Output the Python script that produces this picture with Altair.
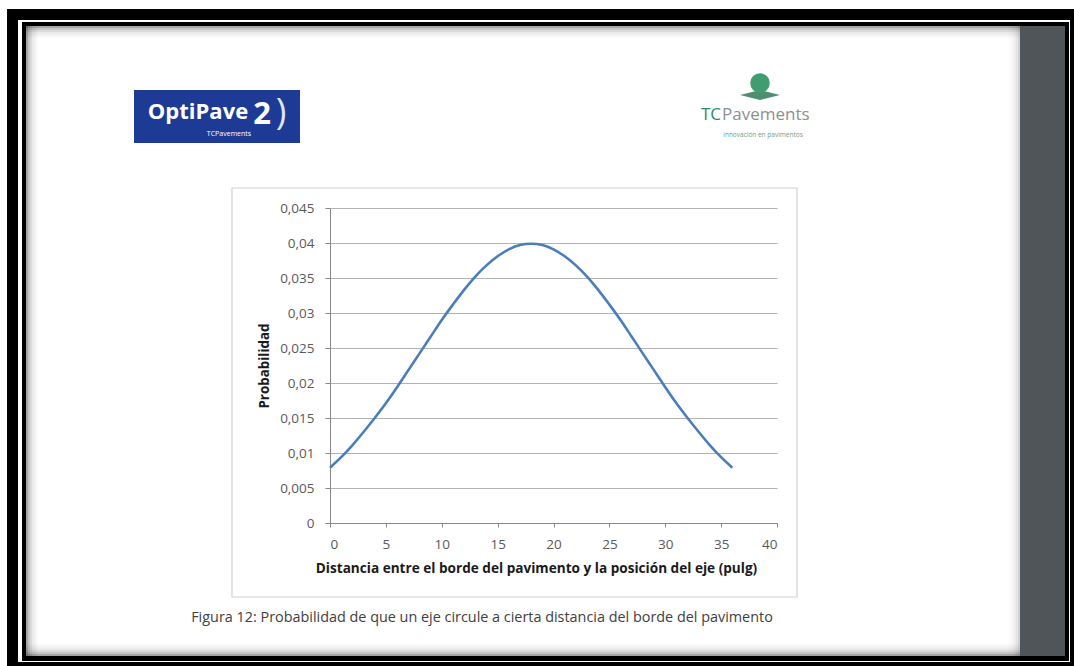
import altair as alt
import pandas as pd

# ---- data ----
distance = list(range(0, 37))
probability = [0.0079, 0.0094, 0.0111, 0.0130, 0.0150, 0.0171, 0.0194, 0.0218, 0.0242, 0.0266,
               0.0290, 0.0312, 0.0333, 0.0352, 0.0368, 0.0381, 0.0391, 0.0397, 0.0399,
               0.0397, 0.0391, 0.0381, 0.0368, 0.0352, 0.0333, 0.0312, 0.0290, 0.0266, 0.0242,
               0.0218, 0.0194, 0.0171, 0.0150, 0.0130, 0.0111, 0.0094, 0.0079]
x_ticks = [0, 5, 10, 15, 20, 25, 30, 35, 40]
y_ticks = [0, 0.005, 0.01, 0.015, 0.02, 0.025, 0.03, 0.035, 0.04, 0.045]

x_title = "Distancia entre el borde del pavimento y la posición del eje (pulg)"
y_title = "Probabilidad"
caption = "Figura 12: Probabilidad de que un eje circule a cierta distancia del borde del pavimento"

df = pd.DataFrame({"distance": distance, "probability": probability})

# ---- layout (plot area placed with padding) ----
W, H = 1074, 666
OX, OY = 330, 208          # plot-area origin in page pixels
PW, PH = 447, 315          # plot-area size
FONT = "Open Sans"
one = alt.Data(values=[{"k": 1}])


def rect(x1, y1, x2, y2, color, opacity=1.0):
    return alt.Chart(one).mark_rect(color=color, opacity=opacity).encode(
        x=alt.value(x1 - OX), x2=alt.value(x2 - OX),
        y=alt.value(y1 - OY), y2=alt.value(y2 - OY))


def frame(x1, y1, x2, y2, color, width=1.0):
    return alt.Chart(one).mark_rect(filled=False, stroke=color, strokeWidth=width).encode(
        x=alt.value(x1 - OX), x2=alt.value(x2 - OX),
        y=alt.value(y1 - OY), y2=alt.value(y2 - OY))


def txt(s, x, y, size, color, weight="normal", align="center", font=FONT):
    return alt.Chart(one).mark_text(text=s, fontSize=size, color=color, fontWeight=weight,
                                    align=align, baseline="middle", font=font).encode(
        x=alt.value(x - OX), y=alt.value(y - OY))


def point(x, y, size, color, shape="circle"):
    return alt.Chart(one).mark_point(filled=True, size=size, color=color, shape=shape,
                                     opacity=1).encode(
        x=alt.value(x - OX), y=alt.value(y - OY))


decor = []
# outer black frame
decor += [rect(7, 9, W, 20, "#000000"), rect(7, 9, 18, H, "#000000"),
          rect(1070, 9, W, H, "#000000"), rect(7, 662, W, H, "#000000")]
# inner black frame
decor += [rect(22, 22, 1069, 26, "#000000"), rect(22, 22, 26, 661, "#000000"),
          rect(1065, 22, 1069, 661, "#000000"), rect(22, 656, 1069, 661, "#000000")]
# dark strip on the right
decor += [rect(1020, 26, 1065, 656, "#50555a")]
# soft shadows of the page
for i, op in enumerate([0.35, 0.22, 0.14, 0.08, 0.05, 0.02]):
    decor.append(rect(26, 26 + 2 * i, 1020, 28 + 2 * i, "#000000", op))
    decor.append(rect(26 + 2 * i, 26, 28 + 2 * i, 656, "#000000", op))
    decor.append(rect(26, 654 - 2 * i, 1020, 656 - 2 * i, "#000000", op))
    decor.append(rect(1018 - 2 * i, 26, 1020 - 2 * i, 656, "#000000", op * 0.5))

# OptiPave logo
decor += [rect(134, 90, 300, 143, "#1d3b94"),
          txt("OptiPave", 198, 112, 22, "#ffffff", "bold"),
          txt("2", 262, 115, 31, "#ffffff", "bold"),
          txt(")", 281, 113, 36, "#dfe6f5", "normal"),
          txt("TCPavements", 229, 134, 7, "#ffffff")]
# TCPavements logo
decor += [point(760, 95, 1600, "#4e8f72", "M-1,0L0,-0.25L1,0L0,0.25Z"),
          point(760, 83, 380, "#3f9d6f"),
          txt("TC", 701, 115, 17, "#2e8b68", "normal", "left"),
          txt("Pavements", 722, 115, 17, "#8a9094", "normal", "left"),
          txt("innovación en pavimentos", 763, 135, 6.5, "#6f9c8a")]

# chart box and caption
decor += [frame(232, 188, 797, 597, "#d0d0d0", 1.2),
          txt(caption, 482, 618, 14.4, "#404040")]

line = alt.Chart(df).mark_line(color="#4a7ebb", strokeWidth=2.6, interpolate="monotone").encode(
    x=alt.X("distance:Q",
            scale=alt.Scale(domain=[0, 40], nice=False, zero=False),
            axis=alt.Axis(values=x_ticks, title=x_title, grid=False,
                          domainColor="#868686", tickColor="#868686", tickSize=4,
                          labelColor="#595959", labelFont=FONT, labelFontSize=13.5,
                          labelPadding=10, titleFont=FONT, titleFontSize=13.6,
                          titleFontWeight="bold", titleColor="#1a1a1a", titlePadding=11,
                          titleX=206, titleAlign="center")),
    y=alt.Y("probability:Q",
            scale=alt.Scale(domain=[0, 0.045], nice=False),
            axis=alt.Axis(values=y_ticks, title=y_title, grid=True, gridColor="#b3b3b3",
                          gridWidth=1, domainColor="#868686", tickColor="#868686", tickSize=5,
                          labelColor="#595959", labelFont=FONT, labelFontSize=13.5,
                          labelPadding=11,
                          labelExpr="replace(toString(round(datum.value*1000)/1000), '.', ',')",
                          titleFont=FONT, titleFontSize=13.4, titleFontWeight="bold",
                          titleColor="#1a1a1a", titlePadding=8)),
)

chart = alt.layer(*decor, line).properties(
    width=PW, height=PH,
    padding={"left": OX, "top": OY, "right": W - OX - PW, "bottom": H - OY - PH},
    autosize=alt.AutoSizeParams(type="none"),
    background="white",
).configure_view(stroke=None)

chart.save("out.html", embed_options={"renderer": "svg", "actions": False})
